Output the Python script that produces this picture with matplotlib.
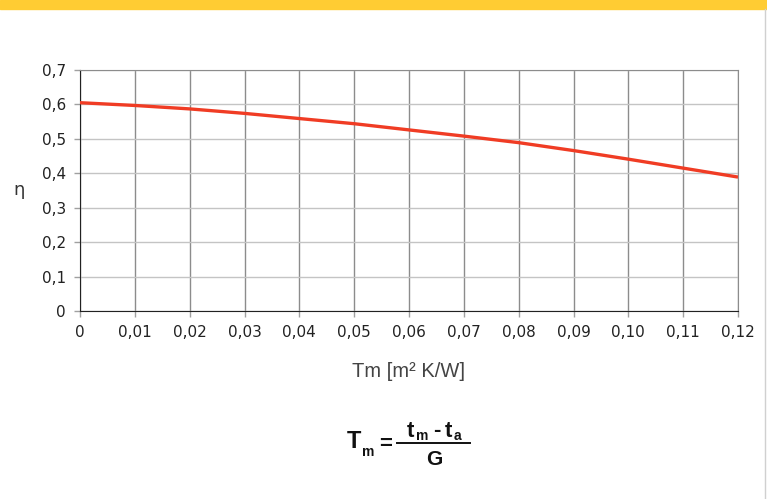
import matplotlib.pyplot as plt

tm = [0, 0.01, 0.02, 0.03, 0.04, 0.05, 0.06, 0.07, 0.08, 0.09, 0.10, 0.11, 0.12]
eta = [0.605, 0.597, 0.587, 0.574, 0.559, 0.544, 0.526, 0.508, 0.489, 0.466, 0.441, 0.415, 0.389]

x_ticks = [0, 0.01, 0.02, 0.03, 0.04, 0.05, 0.06, 0.07, 0.08, 0.09, 0.10, 0.11, 0.12]
x_labels = ['0', '0,01', '0,02', '0,03', '0,04', '0,05', '0,06', '0,07', '0,08', '0,09', '0,10', '0,11', '0,12']
y_ticks = [0, 0.1, 0.2, 0.3, 0.4, 0.5, 0.6, 0.7]
y_labels = ['0', '0,1', '0,2', '0,3', '0,4', '0,5', '0,6', '0,7']

W, H = 767, 499


def px(x, y):
    # pixel position (from top-left) -> figure fraction
    return x / W, 1 - y / H


fig = plt.figure(figsize=(W / 100, H / 100), dpi=100)
ax = fig.add_axes([80 / W, 1 - 311 / H, 658 / W, 241 / H])

# page decoration: yellow band on top, thin grey rule on the right
fig.patches.append(plt.Rectangle((0, 1 - 9 / H), 1, 9 / H, transform=fig.transFigure,
                                 color='#FFCC33', zorder=0))
fig.lines.append(plt.Line2D([765 / W, 765 / W], [0, 1 - 9 / H], transform=fig.transFigure,
                            color='#D0D0D0', lw=1))

ax.plot(tm, eta, color='#F03C24', lw=2.4, solid_capstyle='butt', zorder=3)

ax.set_xlim(0, 0.12)
ax.set_ylim(0, 0.7)
ax.set_xticks(x_ticks)
ax.set_xticklabels(x_labels)
ax.set_yticks(y_ticks)
ax.set_yticklabels(y_labels)
ax.tick_params(axis='both', labelsize=11, colors='#A0A0A0', labelcolor='#222222', length=4, width=1)
ax.tick_params(axis='x', pad=6)
ax.tick_params(axis='y', pad=6)

ax.xaxis.grid(True, color='#8C8C8C', lw=1)
ax.yaxis.grid(True, color='#C4C4C4', lw=1)
ax.set_axisbelow(True)

ax.spines['left'].set_color('#222222')
ax.spines['bottom'].set_color('#222222')
ax.spines['top'].set_color('#8C8C8C')
ax.spines['right'].set_color('#8C8C8C')

# axis titles
fig.text(*px(408, 377), 'Tm [m² K/W]', family='Liberation Sans', fontsize=14.5,
         color='#444444', ha='center', va='baseline')
ax.set_ylabel('η', rotation=0, fontsize=13, color='#333333', ha='center', va='center')
ax.yaxis.set_label_coords((19 - 80) / 658, 0.5)

# formula  T_m = (t_m - t_a) / G
bold = dict(family='Liberation Sans', weight='bold', color='#111111', va='baseline')
fig.text(*px(347, 448), 'T', fontsize=17, **bold)
fig.text(*px(362, 456), 'm', fontsize=10, **bold)
fig.text(*px(379, 450), '=', fontsize=16, **bold)
fig.lines.append(plt.Line2D([397 / W, 470 / W], [1 - 443 / H] * 2, transform=fig.transFigure,
                            color='#111111', lw=1.4))
fig.text(*px(407, 437), 't', fontsize=16, **bold)
fig.text(*px(416, 440), 'm', fontsize=10, **bold)
fig.text(*px(433, 436), '-', fontsize=16, **bold)
fig.text(*px(445, 437), 't', fontsize=16, **bold)
fig.text(*px(454, 440), 'a', fontsize=10, **bold)
fig.text(*px(434, 465), 'G', fontsize=15, ha='center', **bold)

fig.savefig('out.png', dpi=100)
